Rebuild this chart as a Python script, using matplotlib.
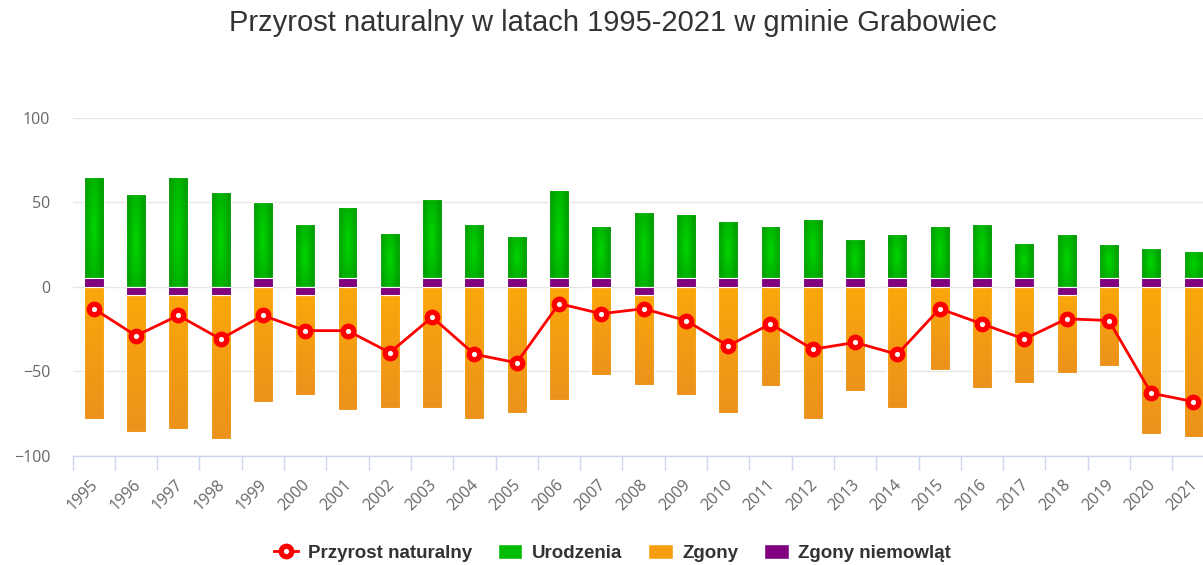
import numpy as np
import matplotlib
matplotlib.use("Agg")
import matplotlib.pyplot as plt
from matplotlib.colors import to_rgb
from matplotlib.lines import Line2D
from matplotlib.patches import Patch
import matplotlib.transforms as mtransforms

# Data
years = list(range(1995, 2022))
urodzenia = [65, 55, 65, 56, 50, 37, 47, 32, 52, 37, 30, 57, 36, 44, 43,
             39, 36, 40, 28, 31, 36, 37, 26, 31, 25, 23, 21]
zgony = [-78, -86, -84, -90, -68, -64, -73, -72, -72, -78, -75, -67, -52, -58, -64,
         -75, -59, -78, -62, -72, -49, -60, -57, -51, -47, -87, -89]
przyrost = [-13, -29, -17, -31, -17, -26, -26, -39, -18, -40, -45, -10, -16, -13, -20,
            -35, -22, -37, -33, -40, -13, -22, -31, -19, -20, -63, -68]
# infant deaths as drawn (small marker bar, above or below zero)
niemowlat = [5, -5, -5, -5, 5, -5, 5, -5, 5, 5, 5, 5, 5, -5, 5,
             5, 5, 5, 5, 5, 5, 5, 5, -5, 5, 5, 5]

GREEN_IN, GREEN_OUT = "#00d600", "#009c00"
ORANGE_TOP, ORANGE_BOT = "#fba70a", "#ec921c"
PURPLE = "#800080"
RED = "#ff0000"

W, H = 1203, 565
fig = plt.figure(figsize=(W / 100, H / 100), dpi=100)
ax = fig.add_axes([72.6 / W, (H - 455.7) / H, 1142 / W, (455.7 - 117.7) / H])

x = np.arange(len(years))
bw = 0.47

def shade(bars, kind, c1, c2):
    # gradient fill clipped to every bar, outline drawn on top
    c1, c2 = np.array(to_rgb(c1)), np.array(to_rgb(c2))
    u = np.linspace(-1, 1, 40)
    U, V = np.meshgrid(u, u)
    if kind == "radial":
        d = np.clip(np.sqrt(U ** 2 + V ** 2 * 0.35), 0, 1)
    else:
        d = (V + 1) / 2
    img = c1 + (c2 - c1) * d[..., None]
    for p in bars:
        x0, y0 = p.get_x(), p.get_y()
        x1, y1 = x0 + p.get_width(), y0 + p.get_height()
        im = ax.imshow(img, extent=(x0, x1, min(y0, y1), max(y0, y1)), origin="upper",
                       aspect="auto", interpolation="bilinear", zorder=2)
        im.set_clip_path(p)
        p.set_facecolor("none")
        p.set_zorder(3)

niem = np.array(niemowlat)
g_bottom = np.maximum(niem, 0)
o_bottom = np.minimum(niem, 0)

green = ax.bar(x, np.array(urodzenia) - g_bottom, bottom=g_bottom, width=bw,
               edgecolor="white", linewidth=0.8)
shade(green, "radial", GREEN_IN, GREEN_OUT)
orange = ax.bar(x, np.array(zgony) - o_bottom, bottom=o_bottom, width=bw,
                edgecolor="white", linewidth=0.8)
shade(orange, "linear", ORANGE_TOP, ORANGE_BOT)
ax.bar(x, niem, width=bw, color=PURPLE, edgecolor="white", linewidth=0.8, zorder=3)

ax.plot(x, przyrost, color=RED, lw=2.0, marker="o", ms=7.6, mew=3.8,
        mfc="white", mec=RED, zorder=5)

ax.set_xlim(-0.5, len(years) - 0.5)
ax.set_ylim(-100, 100)

# axes styling
for s in ["top", "right", "left"]:
    ax.spines[s].set_visible(False)
ax.spines["bottom"].set_color("#ccd6eb")
ax.spines["bottom"].set_linewidth(1)
ax.set_axisbelow(True)
ax.yaxis.grid(True, color="#e6e6e6", lw=1)

ax.set_yticks([-100, -50, 0, 50, 100])
ax.tick_params(axis="y", length=0, pad=16, labelsize=11.5, labelcolor="#666666")
for t in ax.get_yticklabels():
    t.set_family("Open Sans")

ax.set_xticks(x)
ax.set_xticklabels([str(y) for y in years], rotation=45, ha="right",
                   va="center", rotation_mode="anchor", family="Open Sans")
ax.tick_params(axis="x", which="major", length=0, pad=19, labelsize=11.5,
               labelcolor="#666666")
ax.set_xticks(np.arange(-0.5, len(years)), minor=True)
ax.tick_params(axis="x", which="minor", length=10, width=1, color="#ccd6eb")
shift = mtransforms.ScaledTranslation(0.02, 0, fig.dpi_scale_trans)
for t in ax.get_xticklabels():
    t.set_transform(t.get_transform() + shift)

fig.text(612.5 / W, 1 - 23 / H, "Przyrost naturalny w latach 1995-2021 w gminie Grabowiec",
         ha="center", va="center", fontsize=21, color="#333333", family="Liberation Sans")

handles = [
    Line2D([0], [0], color=RED, lw=2, marker="o", ms=7.6, mew=3.8, mfc="white", mec=RED),
    Patch(facecolor="#00bb00", edgecolor="white"),
    Patch(facecolor="#f7a00f", edgecolor="white"),
    Patch(facecolor=PURPLE, edgecolor="white"),
]
labels = ["Przyrost naturalny", "Urodzenia", "Zgony", "Zgony niemowląt"]
fig.legend(handles, labels, loc="center", bbox_to_anchor=(612.5 / W, 1 - 553 / H),
           ncol=4, frameon=False, handlelength=1.3, handleheight=0.85,
           handletextpad=0.5, columnspacing=1.4,
           prop={"family": "Liberation Sans", "weight": "bold", "size": 13.5},
           labelcolor="#333333")

fig.savefig("out.png", dpi=100)
